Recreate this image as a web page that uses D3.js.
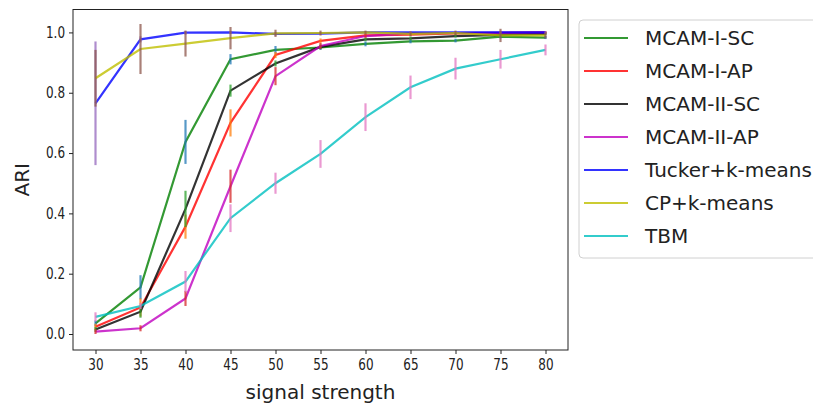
<!DOCTYPE html>
<html>
<head>
<meta charset="utf-8">
<script src="https://cdn.jsdelivr.net/npm/d3@7"></script>
<style>
  body { margin: 0; background: #fff; }
  svg { display: block; }
  .tick text { font-family: "DejaVu Sans", sans-serif; }
</style>
</head>
<body>
<div id="chart"></div>
<script>
// signal strength values on the x axis
const strengths = [30, 35, 40, 45, 50, 55, 60, 65, 70, 75, 80];
const seriesNames = ["MCAM-I-SC", "MCAM-I-AP", "MCAM-II-SC", "MCAM-II-AP", "Tucker+k-means", "CP+k-means", "TBM"];

// mean ARI per method
const mcamISC  = [0.035, 0.155, 0.637, 0.911, 0.942, 0.950, 0.962, 0.970, 0.973, 0.986, 0.983];
const mcamIAP  = [0.024, 0.088, 0.356, 0.700, 0.925, 0.972, 0.990, 0.993, 0.997, 0.998, 1.000];
const mcamIISC = [0.015, 0.074, 0.415, 0.807, 0.897, 0.952, 0.977, 0.980, 0.988, 0.992, 0.995];
const mcamIIAP = [0.008, 0.019, 0.118, 0.490, 0.855, 0.955, 0.988, 0.997, 0.998, 0.999, 1.000];
const tucker   = [0.765, 0.977, 0.999, 1.000, 0.995, 0.996, 1.000, 1.000, 1.000, 1.000, 1.000];
const cpKmeans = [0.848, 0.945, 0.963, 0.981, 0.997, 0.998, 1.000, 0.995, 0.998, 0.990, 0.990];
const tbm      = [0.057, 0.093, 0.174, 0.384, 0.500, 0.597, 0.719, 0.818, 0.880, 0.911, 0.942];

// error bar half widths
const errISC  = [0.010, 0.040, 0.073, 0.017, 0.013, 0.008, 0.008, 0.006, 0.006, 0.005, 0.005];
const errIAP  = [0.010, 0.030, 0.040, 0.045, 0.010, 0.008, 0.005, 0.004, 0.003, 0.003, 0.003];
const errIISC = [0.008, 0.020, 0.060, 0.020, 0.010, 0.008, 0.006, 0.006, 0.005, 0.005, 0.004];
const errIIAP = [0.008, 0.010, 0.025, 0.055, 0.030, 0.010, 0.006, 0.004, 0.003, 0.003, 0.003];
const errTuck = [0.205, 0.010, 0.006, 0.005, 0.006, 0.005, 0.004, 0.004, 0.004, 0.004, 0.004];
const errCP   = [0.094, 0.083, 0.043, 0.037, 0.012, 0.008, 0.006, 0.008, 0.008, 0.022, 0.010];
const errTBM  = [0.015, 0.010, 0.035, 0.046, 0.035, 0.046, 0.046, 0.039, 0.036, 0.031, 0.018];

const yTicks = [0.0, 0.2, 0.4, 0.6, 0.8, 1.0];

const lineColors = ["#008000", "#ff0000", "#000000", "#bf00bf", "#0000ff", "#bfbf00", "#00bfbf"];
const barColors = ["#1f77b4", "#ff7f0e", "#2ca02c", "#d62728", "#9467bd", "#8c564b", "#e377c2"];

const means = [mcamISC, mcamIAP, mcamIISC, mcamIIAP, tucker, cpKmeans, tbm];
const errs = [errISC, errIAP, errIISC, errIIAP, errTuck, errCP, errTBM];

const width = 813, height = 404;
const margin = { left: 73, right: 245, top: 9.5, bottom: 54 };

const svg = d3.select("#chart").append("svg")
  .attr("width", width)
  .attr("height", height);

const x = d3.scaleLinear().domain([27.5, 82.5]).range([margin.left, width - margin.right]);
const y = d3.scaleLinear().domain([-0.053, 1.076]).range([height - margin.bottom, margin.top]);

const plot = svg.append("g");

const line = d3.line()
  .x(function (d, i) { return x(strengths[i]); })
  .y(function (d) { return y(d); });

means.forEach(function (vals, s) {
  plot.append("path")
    .datum(vals)
    .attr("fill", "none")
    .attr("stroke", lineColors[s])
    .attr("stroke-opacity", 0.8)
    .attr("stroke-width", 2.2)
    .attr("d", line);

  plot.selectAll(".bar-" + s)
    .data(vals)
    .enter()
    .append("line")
    .attr("class", "bar-" + s)
    .attr("x1", function (d, i) { return x(strengths[i]); })
    .attr("x2", function (d, i) { return x(strengths[i]); })
    .attr("y1", function (d, i) { return y(d - errs[s][i]); })
    .attr("y2", function (d, i) { return y(d + errs[s][i]); })
    .attr("stroke", barColors[s])
    .attr("stroke-opacity", 0.75)
    .attr("stroke-width", 2.2);
});

// frame
svg.append("rect")
  .attr("x", margin.left)
  .attr("y", margin.top)
  .attr("width", width - margin.right - margin.left)
  .attr("height", height - margin.bottom - margin.top)
  .attr("fill", "none")
  .attr("stroke", "#222")
  .attr("stroke-width", 1);

const xAxis = svg.append("g")
  .attr("transform", "translate(0," + (height - margin.bottom) + ")")
  .call(d3.axisBottom(x).tickValues(strengths).tickSize(4).tickPadding(5));

const yAxis = svg.append("g")
  .attr("transform", "translate(" + margin.left + ",0)")
  .call(d3.axisLeft(y).tickValues(yTicks).tickFormat(d3.format(".1f")).tickSize(4).tickPadding(4));

[xAxis, yAxis].forEach(function (a) {
  a.select(".domain").remove();
  a.selectAll(".tick line").attr("stroke", "#222");
  a.selectAll(".tick text").attr("fill", "#222").style("font-size", "15px");
});

// the reference tick labels are narrow, squeeze them horizontally
xAxis.selectAll(".tick text").attr("transform", "scale(0.8,1)");
yAxis.selectAll(".tick text").attr("x", -10).attr("transform", "scale(0.8,1)");

svg.append("text")
  .attr("x", (margin.left + width - margin.right) / 2)
  .attr("y", 399)
  .attr("text-anchor", "middle")
  .style("font-family", "DejaVu Sans, sans-serif")
  .style("font-size", "20px")
  .attr("fill", "#222")
  .text("signal strength");

svg.append("text")
  .attr("transform", "translate(29," + ((margin.top + height - margin.bottom) / 2) + ") rotate(-90)")
  .attr("text-anchor", "middle")
  .style("font-family", "DejaVu Sans, sans-serif")
  .style("font-size", "20px")
  .attr("fill", "#222")
  .text("ARI");

// legend
const legend = svg.append("g").attr("transform", "translate(579,20)");
legend.append("rect")
  .attr("width", 260)
  .attr("height", 238)
  .attr("rx", 4)
  .attr("fill", "#fff")
  .attr("stroke", "#d0d0d0");

seriesNames.forEach(function (name, i) {
  const row = legend.append("g").attr("transform", "translate(0," + (18 + i * 33) + ")");
  row.append("line")
    .attr("x1", 5).attr("x2", 49)
    .attr("stroke", lineColors[i])
    .attr("stroke-opacity", 0.8)
    .attr("stroke-width", 2.2);
  row.append("text")
    .attr("x", 66)
    .attr("dy", "0.35em")
    .style("font-family", "DejaVu Sans, sans-serif")
    .style("font-size", "20px")
    .attr("fill", "#222")
    .text(name);
});
</script>
</body>
</html>
